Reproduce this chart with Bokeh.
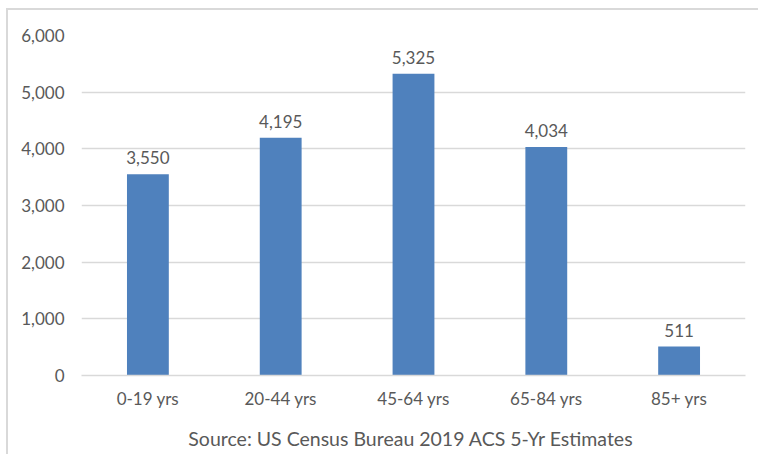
from bokeh.plotting import figure
from bokeh.models import ColumnDataSource, Range1d, FixedTicker, NumeralTickFormatter, LabelSet, FactorRange
from bokeh.core.properties import value
from bokeh.embed import file_html
from bokeh.resources import INLINE

categories = ["0-19 yrs", "20-44 yrs", "45-64 yrs", "65-84 yrs", "85+ yrs"]
values = [3550, 4195, 5325, 4034, 511]
y_ticks = [0, 1000, 2000, 3000, 4000, 5000, 6000]
source_note = "Source:  US Census Bureau 2019 ACS 5-Yr Estimates"

FONT = "Lato"
TXT = "#595959"
GRID = "#d9d9d9"

src = ColumnDataSource(dict(cat=categories, val=values, lab=[f"{v:,}" for v in values]))

p = figure(width=752, height=446, output_backend="svg", toolbar_location=None,
           x_range=FactorRange(*categories, range_padding=0), y_range=Range1d(0, 6000),
           min_border_left=73, min_border_right=15, min_border_top=25, min_border_bottom=81,
           styles={"border-left": "2px solid #d9d9d9", "border-top": "2px solid #d9d9d9",
                   "margin-left": "6px", "margin-top": "8px"})
p.outline_line_color = None
p.vbar(x="cat", top="val", width=0.315, source=src, fill_color="#4F81BD", line_color=None)

labels = LabelSet(x="cat", y="val", text="lab", source=src, text_align="center",
                  text_baseline="bottom", y_offset=10, text_font=value(FONT),
                  text_font_size="17px", text_color=TXT)
p.add_layout(labels)

p.xgrid.grid_line_color = None
p.ygrid.grid_line_color = GRID
p.ygrid.grid_line_width = 1.5
p.yaxis.ticker = FixedTicker(ticks=y_ticks)
p.yaxis.formatter = NumeralTickFormatter(format="0,0")
for ax in (p.xaxis[0], p.yaxis[0]):
    ax.major_tick_line_color = None
    ax.minor_tick_line_color = None
    ax.major_label_text_font = FONT
    ax.major_label_text_font_size = "17px"
    ax.major_label_text_color = TXT
p.yaxis.axis_line_color = None
p.yaxis.major_label_standoff = 11
p.xaxis.axis_line_color = GRID
p.xaxis.axis_line_width = 1.5
p.xaxis.major_label_standoff = 6
p.xaxis.axis_label = source_note
p.xaxis.axis_label_text_font = FONT
p.xaxis.axis_label_text_font_style = "normal"
p.xaxis.axis_label_text_font_size = "19.5px"
p.xaxis.axis_label_text_color = TXT
p.xaxis.axis_label_standoff = 15

open("out.html", "w").write(file_html(p, INLINE))
